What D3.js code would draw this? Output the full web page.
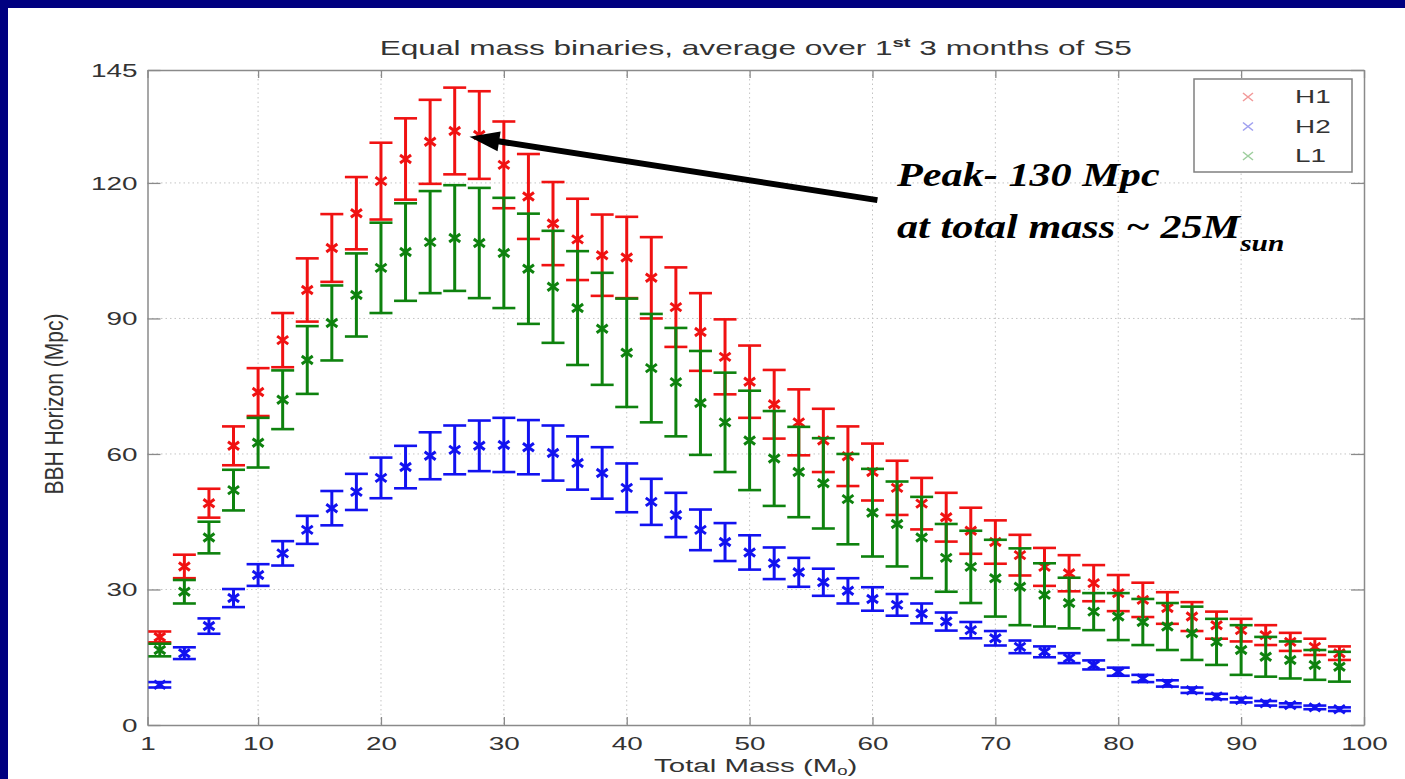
<!DOCTYPE html>
<html><head><meta charset="utf-8">
<script src="https://cdn.jsdelivr.net/npm/d3@7"></script>
<style>body{margin:0;background:#000080;}svg{display:block;}</style>
</head><body>
<svg id="chart" width="1405" height="779"></svg>
<script>
// ---------- data ----------
const totalMass = [2,4,6,8,10,12,14,16,18,20,22,24,26,28,30,32,34,36,38,40,42,44,46,48,50,52,54,56,58,60,62,64,66,68,70,72,74,76,78,80,82,84,86,88,90,92,94,96,98];
const h1Values = [19.5,35.1,49.1,61.8,73.7,85.2,96.3,105.6,113.3,120.4,125.3,129.1,131.5,130.6,124,117,111,107.5,104,103.5,99,92.5,87,81.5,76,71,67,63,59.5,56,52.5,49,46,43,40.5,37.6,35,33.6,31.4,29.2,27.7,25.9,24,22.1,21,19.9,18.4,17.3,15.9];
const h1Errors = [1.2,2.6,3.2,4.3,5.3,6,7,7.5,8,8.5,9,9.3,9.6,9.7,9.6,9.4,9.2,9,9,9,9,8.8,8.6,8.3,8,7.6,7.3,7,6.6,6.3,6,5.7,5.4,5.1,4.8,4.5,4.2,4,4,4,3.8,3.5,3.2,3,2.5,2.2,2,1.8,1.5];
const h2Values = [8.9,15.9,21.9,28.1,33.2,38.0,43.2,48.0,51.6,54.7,57.1,59.6,60.9,61.8,62.0,61.5,60.2,58.0,55.8,52.5,49.4,46.5,43.2,40.5,38.2,35.8,33.8,31.6,29.7,27.9,26.6,24.7,22.9,21.0,19.2,17.3,16.2,14.8,13.3,11.8,10.3,9.2,7.7,6.3,5.5,4.8,4.4,3.9,3.5];
const h2Errors = [0.6,1.3,1.7,2.0,2.4,2.7,3.1,3.8,4.0,4.5,4.7,5.2,5.4,5.6,6.0,6.0,6.1,5.9,5.7,5.4,5.1,4.9,4.5,4.2,3.8,3.5,3.2,3.0,2.8,2.6,2.4,2.2,2.0,1.8,1.6,1.4,1.2,1.1,1.0,0.9,0.8,0.7,0.6,0.6,0.5,0.5,0.4,0.4,0.4];
const l1Values = [16.6,29.5,41.5,52,62.5,72,80.8,89,95.2,101.2,104.7,106.9,107.8,106.7,104.5,101,97,92.3,87.7,82.4,79,75.9,71.3,67,63,59,56,53.5,50,47,44.5,41.5,37,35,32.5,30.6,28.8,27,25.1,24,22.8,21.8,20.3,18.4,16.6,15.1,14.4,13.3,12.9];
const l1Errors = [1.4,2.6,3.5,4.5,5.5,6.5,7.5,8.3,9.2,10,10.8,11.3,11.7,12.2,12.2,12.2,12.4,12.6,12.4,12,12,12,11.5,11,11,10.5,10,10,10,9.7,9.4,9,7.5,8,8.5,8.5,7,5.6,4.1,5.2,5.1,5.2,5.9,5.1,5.5,4.4,4.1,3.3,3.3];
const seriesNames = ["H1","H2","L1"];
const xTicks = [1,10,20,30,40,50,60,70,80,90,100];
const yTicks = [0,30,60,90,120,145];
const arrowTail = [60.4,116.2];
const arrowTip = [27.2,130.2];

// ---------- style / layout ----------
const colors = {H1:"#f01212", H2:"#1212f0", L1:"#0e820e"};
const legendColors = {H1:"#f29a9a", H2:"#a0a0f0", L1:"#9fcf9f"};
const SX = 1.55; // horizontal stretch of the pasted figure
const svg = d3.select("#chart");
svg.append("rect").attr("width",1405).attr("height",779).attr("fill","#000080");
svg.append("rect").attr("x",8).attr("y",8).attr("width",1397).attr("height",771).attr("fill","#ffffff");

const x = d3.scaleLinear().domain([1,100]).range([147.5,1364]);
const y = d3.scaleLinear().domain([0,145]).range([725,70]);
const pLeft = x.range()[0], pRight = x.range()[1], pTop = y.range()[1], pBottom = y.range()[0];

// grid
const grid = svg.append("g");
grid.selectAll("line.gx").data(xTicks.slice(1,-1)).join("line")
  .attr("x1",d=>x(d)).attr("x2",d=>x(d)).attr("y1",pTop).attr("y2",pBottom)
  .attr("stroke","#c4c4c4").attr("stroke-width",1).attr("stroke-dasharray","1.5,3");
grid.selectAll("line.gy").data(yTicks.slice(1,-1)).join("line")
  .attr("x1",pLeft).attr("x2",pRight).attr("y1",d=>y(d)).attr("y2",d=>y(d))
  .attr("stroke","#c4c4c4").attr("stroke-width",1).attr("stroke-dasharray","1.5,3");

// axes
const fontAx = "'Liberation Sans', Arial, sans-serif";
function styleAxis(g){ g.select(".domain").attr("stroke","#8a8a8a").attr("stroke-width",1.5);
  g.selectAll(".tick line").attr("stroke","#8a8a8a").attr("stroke-width",1.3); }
const gxB = svg.append("g").attr("transform",`translate(0,${pBottom})`)
  .call(d3.axisBottom(x).tickValues(xTicks).tickSizeInner(-8).tickSizeOuter(0).tickFormat(d3.format("d")));
styleAxis(gxB);
gxB.selectAll(".tick text").attr("y",12).attr("dy","0.71em").attr("fill","#333")
  .attr("font-size",18).attr("font-family",fontAx).attr("transform",`scale(${SX},1)`);
const gxT = svg.append("g").attr("transform",`translate(0,${pTop})`)
  .call(d3.axisTop(x).tickValues(xTicks).tickSizeInner(-8).tickSizeOuter(0).tickFormat(""));
styleAxis(gxT);
const gyL = svg.append("g").attr("transform",`translate(${pLeft},0)`)
  .call(d3.axisLeft(y).tickValues(yTicks).tickSizeInner(-13).tickSizeOuter(0));
styleAxis(gyL);
gyL.selectAll(".tick text").attr("x",-10/SX).attr("dy","0.35em").attr("fill","#333")
  .attr("font-size",18).attr("font-family",fontAx).attr("transform",`scale(${SX},1)`);
const gyR = svg.append("g").attr("transform",`translate(${pRight},0)`)
  .call(d3.axisRight(y).tickValues(yTicks).tickSizeInner(-13).tickSizeOuter(0).tickFormat(""));
styleAxis(gyR);

// title
const title = svg.append("text").attr("transform",`translate(${(pLeft+pRight)/2},55) scale(${SX},1)`)
  .attr("text-anchor","middle").attr("font-family",fontAx).attr("font-size",20.4).attr("fill","#333");
title.append("tspan").text("Equal mass binaries, average over 1");
title.append("tspan").attr("dy",-8).attr("font-size",13).attr("font-weight","bold").text("st");
title.append("tspan").attr("dy",8).text(" 3 months of S5");

// axis labels
const xl = svg.append("text").attr("transform",`translate(${(pLeft+pRight)/2},772) scale(${SX},1)`)
  .attr("text-anchor","middle").attr("font-family",fontAx).attr("font-size",19).attr("fill","#333");
xl.append("tspan").text("Total Mass (M");
xl.append("tspan").attr("dy",3).attr("font-size",12).text("o");
xl.append("tspan").attr("dy",-3).text(")");
svg.append("text").attr("transform",`translate(63,404) scale(1.2,1) rotate(-90)`)
  .attr("text-anchor","middle").attr("font-family",fontAx).attr("font-size",21).attr("fill","#333")
  .text("BBH Horizon (Mpc)");

// series
const series = [
  {name:"H1", vals:h1Values, errs:h1Errors},
  {name:"H2", vals:h2Values, errs:h2Errors},
  {name:"L1", vals:l1Values, errs:l1Errors}
];
const capHalf = 11.5;
series.forEach(s=>{
  const g = svg.append("g").attr("stroke",colors[s.name]).attr("fill","none");
  const pts = totalMass.map((m,i)=>({m, v:s.vals[i], e:s.errs[i]}));
  g.selectAll("line.v").data(pts).join("line")
    .attr("x1",d=>x(d.m)).attr("x2",d=>x(d.m)).attr("y1",d=>y(d.v-d.e)).attr("y2",d=>y(d.v+d.e))
    .attr("stroke-width",3);
  g.selectAll("line.ct").data(pts).join("line")
    .attr("x1",d=>x(d.m)-capHalf).attr("x2",d=>x(d.m)+capHalf).attr("y1",d=>y(d.v+d.e)).attr("y2",d=>y(d.v+d.e))
    .attr("stroke-width",2.6);
  g.selectAll("line.cb").data(pts).join("line")
    .attr("x1",d=>x(d.m)-capHalf).attr("x2",d=>x(d.m)+capHalf).attr("y1",d=>y(d.v-d.e)).attr("y2",d=>y(d.v-d.e))
    .attr("stroke-width",2.6);
  g.selectAll("path").data(pts).join("path")
    .attr("d",d=>{const cx=x(d.m), cy=y(d.v); return `M${cx-5.5},${cy-4}L${cx+5.5},${cy+4}M${cx-5.5},${cy+4}L${cx+5.5},${cy-4}`;})
    .attr("stroke-width",3);
});

// legend
const lg = svg.append("g");
lg.append("rect").attr("x",1194).attr("y",79).attr("width",158).attr("height",93)
  .attr("fill","#fff").attr("stroke","#808080").attr("stroke-width",1.5);
seriesNames.forEach((n,i)=>{
  const cy = 97 + i*29.5;
  lg.append("path").attr("d",`M1243,${cy-4}L1253,${cy+4}M1243,${cy+4}L1253,${cy-4}`)
    .attr("stroke",legendColors[n]).attr("stroke-width",1.6).attr("fill","none");
  lg.append("text").attr("transform",`translate(1295,${cy}) scale(${SX},1)`).attr("dy","0.36em")
    .attr("font-family",fontAx).attr("font-size",18).attr("fill","#333").text(n);
});

// annotation arrow
const tx = x(arrowTail[0]), ty = y(arrowTail[1]);
const hx = x(arrowTip[0]), hy = y(arrowTip[1]);
const ang = Math.atan2(hy-ty, hx-tx);
const headLen = 30, headHalf = 10;
const bx = hx - headLen*Math.cos(ang), by = hy - headLen*Math.sin(ang);
svg.append("line").attr("x1",tx).attr("y1",ty).attr("x2",bx+4*Math.cos(ang)).attr("y2",by+4*Math.sin(ang))
  .attr("stroke","#000").attr("stroke-width",6);
svg.append("path").attr("d",`M${hx},${hy}L${bx+headHalf*Math.sin(ang)},${by-headHalf*Math.cos(ang)}L${bx-headHalf*Math.sin(ang)},${by+headHalf*Math.cos(ang)}Z`)
  .attr("fill","#000");

const fontAnn = "'Liberation Serif','Times New Roman',serif";
svg.append("text").attr("transform","translate(897,186) scale(1.28,1)")
  .attr("font-family",fontAnn).attr("font-style","italic").attr("font-weight","bold")
  .attr("font-size",33).attr("fill","#000").text("Peak- 130 Mpc");
const a2 = svg.append("text").attr("transform","translate(897,238) scale(1.28,1)")
  .attr("font-family",fontAnn).attr("font-style","italic").attr("font-weight","bold")
  .attr("font-size",33).attr("fill","#000");
a2.append("tspan").text("at total mass ~ 25M");
a2.append("tspan").attr("dy",13).attr("font-size",23).text("sun");
</script>
</body></html>
